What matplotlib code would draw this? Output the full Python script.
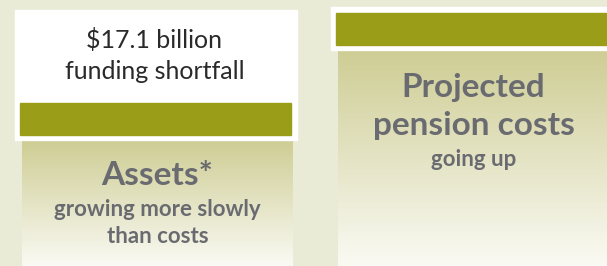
import numpy as np
import matplotlib.pyplot as plt
from matplotlib.colors import LinearSegmentedColormap

# Données : hauteur des barres (unités arbitraires)
categories = ['Assets*', 'Projected\npension costs']
sous_titres = ['growing more slowly\nthan costs', 'going up']
valeurs = [126, 216]
manque_label = '$17.1 billion\nfunding shortfall'

fond = '#e9ebd6'
olive = '#9a9d17'
gris = '#6a6b70'

fig = plt.figure(figsize=(6.07, 2.66), dpi=100)
fig.patch.set_facecolor(fond)
ax = fig.add_axes([0, 0, 1, 1])
ax.set_facecolor(fond)
ax.set_xlim(0, 607)
ax.set_ylim(0, 266)
ax.axis('off')

centres = [157.5, 473.5]
largeur = 271

# dégradé vertical pour les barres
grad = np.linspace(0, 1, 256).reshape(-1, 1)
cmap = LinearSegmentedColormap.from_list('g', ['#fafaf4', '#cecd94'])

bars = ax.bar(centres, valeurs, width=largeur, color='none', linewidth=0)
for b, v in zip(bars, valeurs):
    x0 = b.get_x()
    im = ax.imshow(grad, extent=[x0, x0 + largeur, 0, v], origin='lower',
                   cmap=cmap, aspect='auto', zorder=1)
    im.set_clip_path(b)

# boîte blanche du manque de financement (gauche) et capuchons olive
haut = max(valeurs)
for i, (c, v) in enumerate(zip(centres, valeurs)):
    x0 = c - largeur / 2
    top_blanc = haut + 40 if v < haut else v + 43
    ax.add_patch(plt.Rectangle((x0 - 7, v), largeur + 11, top_blanc - v,
                               color='white', zorder=2))
    ax.add_patch(plt.Rectangle((x0 - 2, v + 5), largeur, 32,
                               color=olive, zorder=3))

# textes
for y, t in zip([48, 79], manque_label.split('\n')):
    ax.text(centres[0] - 3, 266 - y, t, ha='center', va='baseline',
            fontsize=18, family='Lato', color='#2a2a2a', zorder=4)

lignes_y = [[(185, categories[0])],
            [(97, 'Projected'), (135, 'pension costs')]]
for i, c in enumerate(centres):
    for y, t in lignes_y[i]:
        ax.text(c, 266 - y, t, ha='center', va='baseline', fontsize=24,
                family='Lato', fontweight='bold', color=gris, zorder=4)

sous_y = [[216, 243], [166]]
for i, c in enumerate(centres):
    for y, t in zip(sous_y[i], sous_titres[i].split('\n')):
        ax.text(c, 266 - y, t, ha='center', va='baseline', fontsize=16,
                family='Lato', fontweight='bold', color=gris, zorder=4)

plt.savefig('out.png', dpi=100, facecolor=fond)
